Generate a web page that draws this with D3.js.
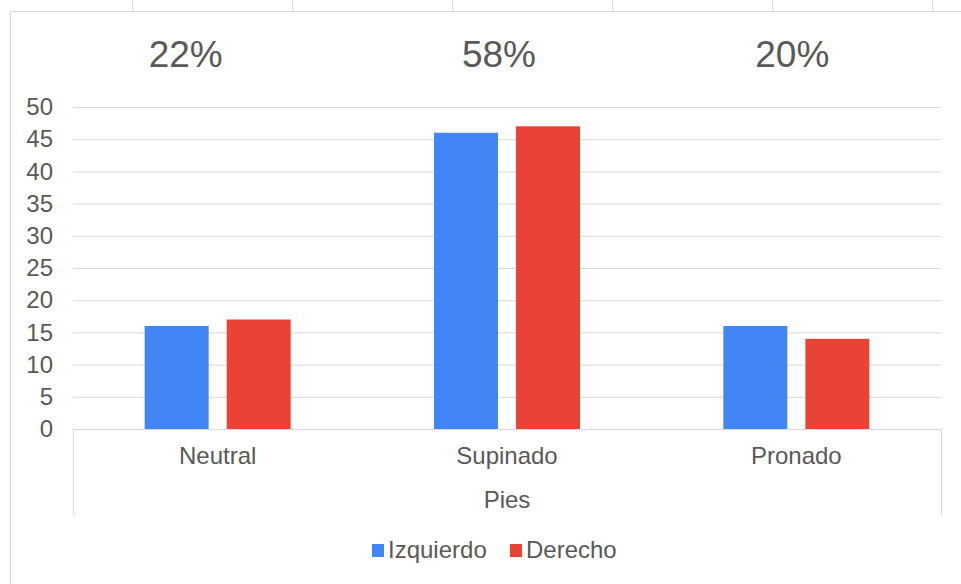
<!DOCTYPE html>
<html><head><meta charset="utf-8">
<script src="https://cdn.jsdelivr.net/npm/d3@7"></script>
<style>body{margin:0;background:#fff}svg{display:block;font-family:"Liberation Sans",Arial,sans-serif}</style>
</head><body><svg id="c" width="961" height="584"></svg>
<script>
const categories = ["Neutral", "Supinado", "Pronado"];
const seriesNames = ["Izquierdo", "Derecho"];
const izquierdo = [16, 46, 16];
const derecho = [17, 47, 14];
const percentLabels = ["22%", "58%", "20%"];
const yTicks = [0, 5, 10, 15, 20, 25, 30, 35, 40, 45, 50];
const axisTitle = "Pies";

const colors = ["#4285F4", "#EA4335"];
const textColor = "#595959";
const svg = d3.select("#c");
const L = 73, R = 941, T = 107, B = 429;

// frame lines
svg.append("line").attr("x1", 10.5).attr("x2", 10.5).attr("y1", 11).attr("y2", 584).attr("stroke", "#d9d9d9");
svg.append("line").attr("x1", 10).attr("x2", 961).attr("y1", 11.5).attr("y2", 11.5).attr("stroke", "#d9d9d9");
[132, 292, 452, 612, 772, 932].forEach(x => svg.append("line").attr("x1", x + .5).attr("x2", x + .5).attr("y1", 0).attr("y2", 11).attr("stroke", "#d9d9d9"));

const x = d3.scaleBand().domain(categories).range([L, R]);
const y = d3.scaleLinear().domain([0, 50]).range([B, T]);
const xs = d3.scaleBand().domain(seriesNames).range([0, 146]).paddingInner(0.22);

// gridlines
const yAxis = d3.axisLeft(y).tickValues(yTicks).tickSize(-(R - L)).tickPadding(20);
const ga = svg.append("g").attr("transform", `translate(${L},0)`).call(yAxis);
ga.select(".domain").remove();
ga.selectAll(".tick line").attr("stroke", "#d9d9d9").attr("stroke-width", 1);
ga.selectAll(".tick text").attr("fill", textColor).attr("font-size", 24).attr("x", -20);

// x axis box
svg.append("path").attr("d", `M${L + .5},515V${B + .5}H${R + .5}V515`).attr("fill", "none").attr("stroke", "#d9d9d9");

// bars
const data = [izquierdo, derecho];
data.forEach((vals, si) => {
  svg.append("g").selectAll("rect").data(vals).join("rect")
    .attr("x", (d, i) => x(categories[i]) + x.bandwidth() / 2 - 73 + xs(seriesNames[si]))
    .attr("width", xs.bandwidth())
    .attr("y", d => y(d))
    .attr("height", d => y(0) - y(d))
    .attr("fill", colors[si]);
});

// category labels
const xAxis = d3.axisBottom(x).tickSize(0).tickPadding(18);
const gx = svg.append("g").attr("transform", `translate(0,${B})`).call(xAxis);
gx.select(".domain").remove();
gx.selectAll("text").attr("fill", textColor).attr("font-size", 24);

svg.append("text").attr("x", (L + R) / 2).attr("y", 508).attr("text-anchor", "middle")
  .attr("fill", textColor).attr("font-size", 24).text(axisTitle);

// percent header
const pctOffset = [-32, -8, -4];
svg.append("g").selectAll("text").data(percentLabels).join("text")
  .attr("x", (d, i) => x(categories[i]) + x.bandwidth() / 2 + pctOffset[i])
  .attr("y", 67).attr("text-anchor", "middle").attr("fill", textColor)
  .attr("font-size", 37).text(d => d);

// legend
const leg = svg.append("g");
const legX = [372, 510];
seriesNames.forEach((n, i) => {
  leg.append("rect").attr("x", legX[i]).attr("y", 544).attr("width", 12).attr("height", 13).attr("fill", colors[i]);
  leg.append("text").attr("x", legX[i] + 16).attr("y", 558).attr("fill", textColor).attr("font-size", 24).text(n);
});
</script></body></html>
